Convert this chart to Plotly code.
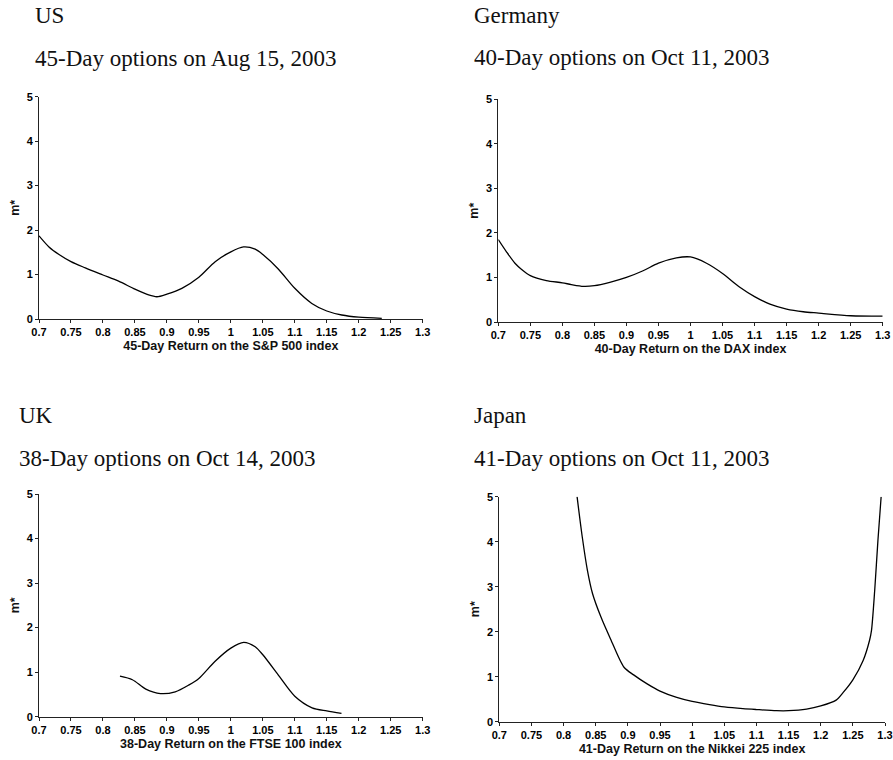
import plotly.graph_objects as go

# Risk-neutral pricing kernel m* against index return, four markets
us_x = [0.70, 0.7156, 0.7313, 0.75, 0.7724, 0.80, 0.8245, 0.85, 0.8714, 0.8844,
        0.90, 0.9234, 0.95, 0.9755, 1.00, 1.0198, 1.038, 1.05, 1.0745, 1.10,
        1.1266, 1.15, 1.1734, 1.20, 1.236]
us_y = [1.87, 1.62, 1.45, 1.29, 1.15, 0.99, 0.85, 0.67, 0.54, 0.50,
        0.56, 0.69, 0.94, 1.29, 1.51, 1.62, 1.57, 1.45, 1.12, 0.69,
        0.35, 0.18, 0.09, 0.04, 0.015]

de_x = [0.70, 0.713, 0.726, 0.7364, 0.75, 0.775, 0.80, 0.814, 0.833, 0.85,
        0.874, 0.90, 0.926, 0.95, 0.978, 1.00, 1.025, 1.05, 1.077, 1.10,
        1.124, 1.15, 1.176, 1.20, 1.25, 1.30]
de_y = [1.85, 1.57, 1.32, 1.18, 1.04, 0.93, 0.88, 0.84, 0.80, 0.815,
        0.89, 1.00, 1.15, 1.32, 1.44, 1.46, 1.32, 1.09, 0.78, 0.57,
        0.40, 0.29, 0.23, 0.20, 0.14, 0.13]

uk_x = [0.8266, 0.846, 0.867, 0.89, 0.913, 0.934, 0.95, 0.975, 1.00, 1.02,
        1.038, 1.05, 1.074, 1.10, 1.127, 1.15, 1.173]
uk_y = [0.91, 0.83, 0.62, 0.52, 0.56, 0.71, 0.86, 1.24, 1.54, 1.67,
        1.57, 1.39, 0.94, 0.46, 0.20, 0.13, 0.075]

jp_x = [0.821, 0.829, 0.837, 0.845, 0.858, 0.873, 0.894, 0.909, 0.930, 0.95,
        0.976, 1.00, 1.027, 1.05, 1.079, 1.10, 1.131, 1.15, 1.178, 1.20,
        1.224, 1.235, 1.25, 1.266, 1.276, 1.279, 1.284, 1.289, 1.294]
jp_y = [5.00, 4.11, 3.37, 2.85, 2.33, 1.84, 1.21, 1.04, 0.84, 0.68,
        0.54, 0.45, 0.38, 0.33, 0.29, 0.27, 0.245, 0.245, 0.28, 0.35,
        0.48, 0.65, 0.93, 1.36, 1.81, 2.03, 2.92, 4.03, 5.00]

x_ticks = [0.7, 0.75, 0.8, 0.85, 0.9, 0.95, 1.0, 1.05, 1.1, 1.15, 1.2, 1.25, 1.3]
x_tick_text = ["0.7", "0.75", "0.8", "0.85", "0.9", "0.95", "1", "1.05",
               "1.1", "1.15", "1.2", "1.25", "1.3"]
y_ticks = [0, 1, 2, 3, 4, 5]

countries = ["US", "Germany", "UK", "Japan"]
subtitles = ["45-Day options on Aug 15, 2003", "40-Day options on Oct 11, 2003",
             "38-Day options on Oct 14, 2003", "41-Day options on Oct 11, 2003"]
x_titles = ["45-Day Return on the S&P 500 index", "40-Day Return on the DAX index",
            "38-Day Return on the FTSE 100 index", "41-Day Return on the Nikkei 225 index"]
series = [(us_x, us_y), (de_x, de_y), (uk_x, uk_y), (jp_x, jp_y)]

W, H = 893, 760
# panel frames in pixels: (left, right, y of 0, y of 5)
frames = [(39, 422.7, 319, 96.7), (498.3, 882.7, 322, 99.3),
          (39, 422.7, 716.7, 494), (499.3, 885, 721.7, 496.7)]
# heading positions: (left x, country centre y, subtitle centre y)
headings = [(33, 16, 58), (472, 16, 57.5), (16.5, 415, 458), (472, 415, 458)]

tick_font = dict(family="Liberation Sans, Arial", size=11, color="#000", weight="bold")
title_font = dict(family="Liberation Sans, Arial", size=12.5, color="#111", weight="bold")
head_font = dict(family="Liberation Serif, Times New Roman", size=23, color="#111")

fig = go.Figure()
layout = dict(width=W, height=H, margin=dict(l=0, r=0, t=0, b=0),
              paper_bgcolor="white", plot_bgcolor="white", showlegend=False,
              annotations=[])

for i, ((xs, ys), (l, r, y0, y5)) in enumerate(zip(series, frames)):
    n = "" if i == 0 else str(i + 1)
    fig.add_trace(go.Scatter(x=xs, y=ys, mode="lines", xaxis="x" + n, yaxis="y" + n,
                             line=dict(color="black", width=1.3, shape="spline", smoothing=0.8),
                             hoverinfo="skip"))
    layout["xaxis" + n] = dict(domain=[l / W, r / W], range=[0.7, 1.3], anchor="y" + n,
                               automargin=False,
                               showline=True, linecolor="#222", linewidth=1,
                               ticks="outside", ticklen=3, tickcolor="#222",
                               tickvals=x_ticks, ticktext=x_tick_text, tickfont=tick_font,
                               showgrid=False, zeroline=False,
                               title=dict(text=x_titles[i], font=title_font, standoff=4))
    layout["yaxis" + n] = dict(domain=[1 - y0 / H, 1 - y5 / H], range=[0, 5], anchor="x" + n,
                               automargin=False,
                               showline=True, linecolor="#222", linewidth=1,
                               ticks="outside", ticklen=3, tickcolor="#222",
                               tickvals=y_ticks, tickfont=tick_font,
                               showgrid=False, zeroline=False,
                               title=dict(text="m*", font=title_font, standoff=4))
    hx, hy1, hy2 = headings[i]
    layout["annotations"].append(dict(text=countries[i], xref="paper", yref="paper",
                                      x=hx / W, y=1 - hy1 / H, xanchor="left", yanchor="middle",
                                      showarrow=False, font=head_font))
    layout["annotations"].append(dict(text=subtitles[i], xref="paper", yref="paper",
                                      x=hx / W, y=1 - hy2 / H, xanchor="left", yanchor="middle",
                                      showarrow=False, font=head_font))

fig.update_layout(**layout)
fig.write_html("out.html")
